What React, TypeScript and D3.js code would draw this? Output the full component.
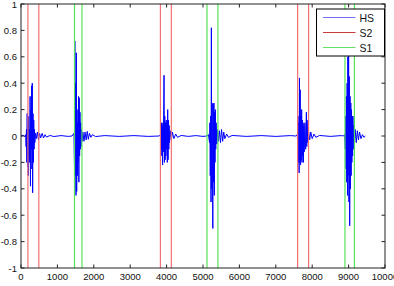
import React from 'react';
import * as d3 from 'd3';

// heart sound bursts, [sample, amplitude]
const burstS2a: [number, number][] = [
  [0, 0], [60, 0.006], [100, -0.005], [130, 0.01], [140, -0.08], [150, 0.05], [160, -0.2], [170, 0.17],
  [180, -0.23], [190, 0.1], [200, -0.3], [210, 0.15], [220, -0.15], [230, 0.05], [240, -0.2],
  [250, 0.3], [260, -0.38], [270, 0.2], [280, -0.1], [290, 0.38], [300, -0.25], [310, 0.4],
  [320, -0.43], [330, 0.17], [340, -0.2], [350, 0.12], [360, -0.1], [370, 0.05], [380, -0.05],
  [400, 0.02], [420, -0.02], [450, 0.03], [480, -0.03], [510, 0.02], [540, -0.015], [580, 0.02],
  [620, -0.015], [660, 0.01], [700, -0.008], [800, 0.004], [900, -0.004], [1100, 0.003], [1300, -0.003]
];
const burstS1a: [number, number][] = [
  [1400, 0], [1455, 0.02], [1470, -0.25], [1480, 0.72], [1490, -0.3], [1500, 0.4], [1510, -0.45],
  [1520, 0.63], [1530, -0.42], [1540, 0.2], [1550, -0.3], [1560, 0.1], [1570, -0.2], [1580, 0.3],
  [1590, -0.35], [1600, 0.29], [1610, -0.15], [1620, 0.18], [1630, -0.1], [1640, 0.1], [1650, -0.08],
  [1660, 0.05], [1680, -0.04], [1700, 0.03], [1730, -0.04], [1760, 0.03], [1790, -0.03],
  [1820, 0.035], [1850, -0.025], [1880, 0.02], [1920, -0.01], [1960, 0.01], [2050, -0.004],
  [2300, 0.003], [2700, -0.003], [3100, 0.003], [3500, -0.003]
];
const burstS2b: [number, number][] = [
  [3800, 0], [3830, 0.01], [3850, -0.1], [3860, 0.1], [3870, -0.15], [3880, 0.08], [3890, -0.22],
  [3900, 0.1], [3910, -0.12], [3920, 0.2], [3930, 0.46], [3940, -0.2], [3950, 0.15], [3960, -0.18],
  [3970, 0.1], [3980, -0.15], [3990, 0.12], [4000, -0.1], [4010, 0.1], [4020, -0.2], [4030, 0.2],
  [4040, -0.18], [4050, 0.12], [4060, -0.1], [4070, 0.08], [4080, -0.05], [4100, 0.04],
  [4130, -0.03], [4160, 0.03], [4200, -0.02], [4250, 0.015], [4300, -0.01], [4400, 0.004],
  [4600, -0.003], [4800, 0.003], [5000, -0.003]
];
const burstS1b: [number, number][] = [
  [5100, 0], [5150, 0.01], [5180, -0.05], [5190, 0.1], [5200, -0.3], [5210, 0.15], [5220, -0.5],
  [5230, 0.82], [5240, -0.4], [5250, 0.25], [5260, -0.3], [5270, -0.7], [5280, 0.24], [5290, -0.35],
  [5300, 0.25], [5310, -0.45], [5320, 0.18], [5330, -0.2], [5340, 0.2], [5350, -0.1], [5360, 0.1],
  [5380, -0.06], [5400, 0.05], [5420, -0.04], [5450, 0.04], [5480, -0.05], [5510, 0.05],
  [5540, -0.04], [5570, 0.03], [5600, -0.02], [5650, 0.015], [5700, -0.01], [5800, 0.004],
  [6200, -0.003], [6600, 0.003], [7000, -0.003], [7400, 0.003]
];
const burstS2c: [number, number][] = [
  [7550, 0], [7590, 0.01], [7600, -0.05], [7610, 0.15], [7620, -0.2], [7630, 0.1], [7640, -0.28],
  [7650, 0.44], [7660, -0.2], [7670, 0.35], [7680, -0.22], [7690, 0.15], [7700, -0.18], [7710, 0.2],
  [7720, -0.2], [7730, 0.12], [7740, -0.15], [7750, 0.1], [7760, -0.2], [7770, 0.08], [7780, -0.12],
  [7800, 0.1], [7820, -0.1], [7840, 0.18], [7850, -0.08], [7860, 0.12], [7880, -0.05], [7900, 0.04],
  [7930, -0.03], [7960, 0.03], [8000, -0.02], [8050, 0.015], [8100, -0.01], [8200, 0.004],
  [8500, -0.003], [8800, 0.003]
];
const burstS1c: [number, number][] = [
  [8850, 0], [8890, 0.01], [8910, -0.1], [8920, 0.15], [8930, -0.25], [8940, 0.3], [8950, -0.35],
  [8960, 0.4], [8970, -0.45], [8980, 0.6], [8990, -0.3], [9000, 0.9], [9010, -0.5], [9020, 0.45],
  [9030, -0.68], [9040, 0.3], [9050, -0.4], [9060, 0.25], [9070, -0.3], [9080, 0.2], [9090, -0.2],
  [9100, 0.15], [9110, -0.15], [9120, 0.15], [9130, -0.1], [9140, 0.08], [9160, -0.05], [9180, 0.05],
  [9210, -0.05], [9240, 0.04], [9270, -0.03], [9300, 0.03], [9340, -0.02], [9380, 0.01],
  [9420, -0.01], [9460, 0]
];

// segmentation markers
const s2Lines = [190, 490, 3830, 4130, 7600, 7900];
const s1Lines = [1470, 1675, 5110, 5410, 8900, 9160];

const xTicks = [0, 1000, 2000, 3000, 4000, 5000, 6000, 7000, 8000, 9000, 10000];
const yTicks = [-1, -0.8, -0.6, -0.4, -0.2, 0, 0.2, 0.4, 0.6, 0.8, 1];
const legendItems = ['HS', 'S2', 'S1'];

const W = 394;
const H = 286;
const left = 21;
const right = 385;
const top = 4;
const bottom = 268;

const BLUE = '#0000ff';
const RED = '#f27070';
const GREEN = '#55e455';

export default function App() {
  const x = d3.scaleLinear().domain([0, 10000]).range([left, right]);
  const y = d3.scaleLinear().domain([-1, 1]).range([bottom, top]);

  const hs = [...burstS2a, ...burstS1a, ...burstS2b, ...burstS1b, ...burstS2c, ...burstS1c];
  const line = d3.line<[number, number]>()
    .x(d => x(d[0]))
    .y(d => y(d[1]));

  const fmt = (v: number) => String(Math.round(v * 10) / 10);
  const legendColors = ['#7070f0', '#c83c3c', '#66e066'];
  const font = 'Liberation Sans, Arial, sans-serif';

  return (
    <svg width={W} height={H} style={{ position: 'absolute', left: 0, top: 0, background: '#fff' }}>
      <defs>
        <clipPath id="plot">
          <rect x={left} y={top} width={right - left} height={bottom - top} />
        </clipPath>
      </defs>
      <rect x={left} y={top} width={right - left} height={bottom - top} fill="#fff" />

      <g clipPath="url(#plot)">
        <path d={line(hs) || ''} fill="none" stroke={BLUE} strokeWidth={1} strokeLinejoin="round" />
        {s2Lines.map((v, i) => (
          <line key={'r' + i} x1={x(v)} x2={x(v)} y1={top} y2={bottom} stroke={RED} strokeWidth={1.2} />
        ))}
        {s1Lines.map((v, i) => (
          <line key={'g' + i} x1={x(v)} x2={x(v)} y1={top} y2={bottom} stroke={GREEN} strokeWidth={1.2} />
        ))}
      </g>

      {/* frame */}
      <rect x={left} y={top} width={right - left} height={bottom - top} fill="none" stroke="#222" strokeWidth={1} />

      {/* ticks */}
      {xTicks.map(t => (
        <g key={'xt' + t}>
          <line x1={x(t)} x2={x(t)} y1={bottom} y2={bottom - 3.5} stroke="#222" />
          <line x1={x(t)} x2={x(t)} y1={top} y2={top + 3.5} stroke="#222" />
          <text x={x(t)} y={280} fontSize={9.5} fontFamily={font} textAnchor="middle" fill="#111">{t}</text>
        </g>
      ))}
      {yTicks.map(t => (
        <g key={'yt' + t}>
          <line x1={left} x2={left + 3.5} y1={y(t)} y2={y(t)} stroke="#222" />
          <line x1={right} x2={right - 3.5} y1={y(t)} y2={y(t)} stroke="#222" />
          <text x={17} y={y(t) + 3.5} fontSize={9.5} fontFamily={font} textAnchor="end" fill="#111">{fmt(t)}</text>
        </g>
      ))}

      {/* legend */}
      <g transform="translate(316.5,9)">
        <rect x={0} y={0} width={68} height={47} fill="#fff" stroke="#000" strokeWidth={1} />
        {legendItems.map((name, i) => (
          <g key={name} transform={`translate(0,${8.5 + i * 15})`}>
            <line x1={6.5} x2={39} y1={0} y2={0} stroke={legendColors[i]} strokeWidth={1} />
            <text x={43} y={4} fontSize={10.5} fontFamily={font} fill="#111">{name}</text>
          </g>
        ))}
      </g>
    </svg>
  );
}
